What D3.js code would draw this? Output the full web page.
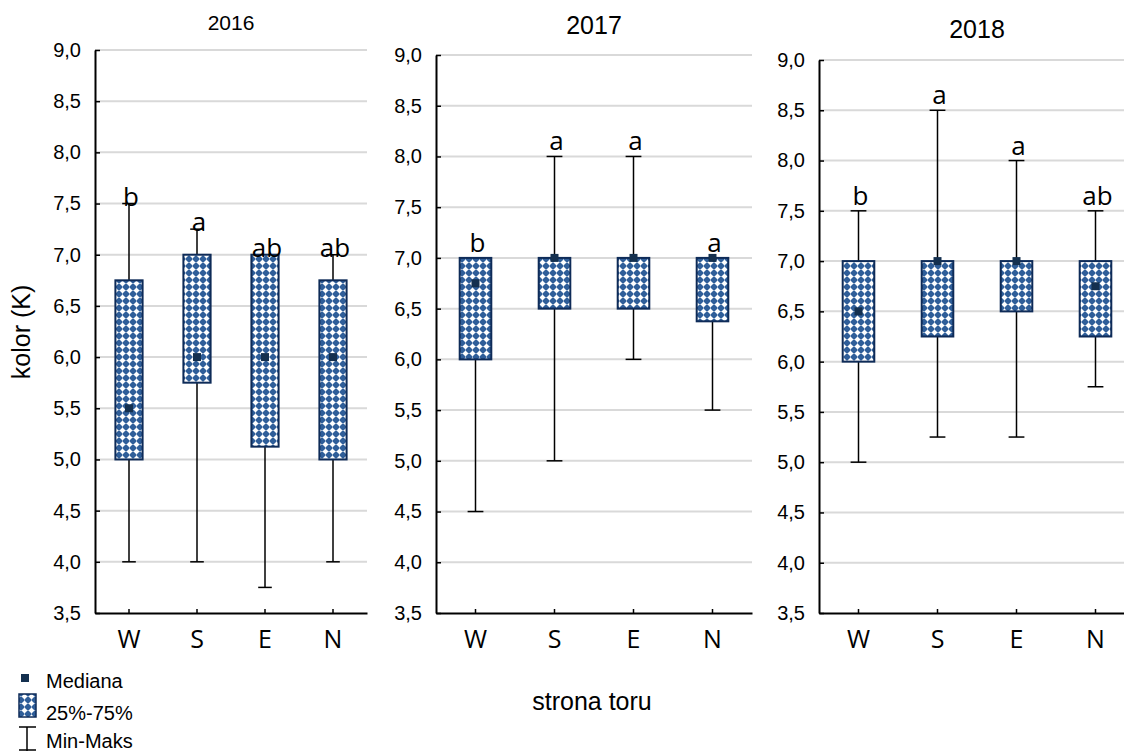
<!DOCTYPE html>
<html>
<head>
<meta charset="utf-8">
<script src="https://cdn.jsdelivr.net/npm/d3@7"></script>
<style>
  body { margin: 0; background: #fff; }
  text { font-family: Arial, "Liberation Sans", sans-serif; fill: #000; }
  .let, .xlab text { font-family: "Open Sans", sans-serif; }
</style>
</head>
<body>
<div id="chart"></div>
<script>
// boxplot of colour score (K) by side of track, three years

var years = ["2016", "2017", "2018"];
var sides = ["W", "S", "E", "N"];

// one row per year, one value per side
var minVals = [
    [4.0, 4.0, 3.75, 4.0],
    [4.5, 5.0, 6.0, 5.5],
    [5.0, 5.25, 5.25, 5.75]
];
var q1Vals = [
    [5.0, 5.75, 5.125, 5.0],
    [6.0, 6.5, 6.5, 6.375],
    [6.0, 6.25, 6.5, 6.25]
];
var medVals = [
    [5.5, 6.0, 6.0, 6.0],
    [6.75, 7.0, 7.0, 7.0],
    [6.5, 7.0, 7.0, 6.75]
];
var q3Vals = [
    [6.75, 7.0, 7.0, 6.75],
    [7.0, 7.0, 7.0, 7.0],
    [7.0, 7.0, 7.0, 7.0]
];
var maxVals = [
    [7.5, 7.25, 7.0, 7.0],
    [7.0, 8.0, 8.0, 7.0],
    [7.5, 8.5, 8.0, 7.5]
];
var letters = [
    ["b", "a", "ab", "ab"],
    ["b", "a", "a", "a"],
    ["b", "a", "a", "ab"]
];
var yTicks = [3.5, 4.0, 4.5, 5.0, 5.5, 6.0, 6.5, 7.0, 7.5, 8.0, 8.5, 9.0];

var svgWidth = 1124;
var svgHeight = 751;

// where each year's panel sits
var panels = [
    { x0: 95,  x1: 367,  top: 50, titleY: 30, titleSize: 21, letDy: 2 },
    { x0: 436, x1: 752,  top: 55, titleY: 34, titleSize: 25, letDy: -6 },
    { x0: 819, x1: 1135, top: 60, titleY: 38, titleSize: 25, letDy: -6 }
];
var bottom = 613;

var boxBlue = "#2f5e99";
var boxEdge = "#0e2b58";
var medColor = "#14304f";

var pl = d3.formatLocale({ decimal: ",", thousands: " ", grouping: [3], currency: ["", ""] });
var fmt = pl.format(".1f");

var svg = d3.select("#chart")
    .append("svg")
    .attr("width", svgWidth)
    .attr("height", svgHeight);

// checker pattern for the boxes
var pat = svg.append("defs").append("pattern")
    .attr("id", "chk")
    .attr("patternUnits", "userSpaceOnUse")
    .attr("width", 7)
    .attr("height", 7);
pat.append("rect").attr("width", 7).attr("height", 7).attr("fill", boxBlue);
pat.append("path")
    .attr("d", "M3.5,0.5L6.5,3.5L3.5,6.5L0.5,3.5Z")
    .attr("fill", "#fff");
pat.append("rect").attr("x", 0).attr("y", 3.1).attr("width", 7).attr("height", 0.8).attr("fill", "#fff").attr("opacity", 0.5);
pat.append("rect").attr("x", 3.1).attr("y", 0).attr("width", 0.8).attr("height", 7).attr("fill", "#fff").attr("opacity", 0.5);

years.forEach(function(year, i) {
    var p = panels[i];
    var g = svg.append("g");

    var xScale = d3.scaleBand()
        .domain(sides)
        .range([p.x0, p.x1])
        .padding(0);
    var yScale = d3.scaleLinear()
        .domain([3.5, 9.0])
        .range([bottom, p.top]);

    // grid
    g.append("g").selectAll("line")
        .data(yTicks.slice(1))
        .enter()
        .append("line")
        .attr("x1", p.x0)
        .attr("x2", p.x1)
        .attr("y1", d => yScale(d))
        .attr("y2", d => yScale(d))
        .attr("stroke", "#d9d9d9")
        .attr("stroke-width", 2);

    // y axis, ticks point inward
    var yAxis = d3.axisLeft(yScale)
        .tickValues(yTicks)
        .tickFormat(fmt)
        .tickSize(-5)
        .tickSizeOuter(0)
        .tickPadding(14);
    var ya = g.append("g")
        .attr("transform", `translate(${p.x0},0)`)
        .call(yAxis);
    ya.select(".domain").attr("stroke", "#000").attr("stroke-width", 2);
    ya.selectAll(".tick line").attr("stroke", "#000").attr("stroke-width", 1.5);
    ya.selectAll(".tick text")
        .attr("font-size", 20)
        .attr("font-family", "Arial, 'Liberation Sans', sans-serif");

    // x axis, small ticks pointing up
    var xAxis = d3.axisBottom(xScale)
        .tickSize(-4)
        .tickSizeOuter(0)
        .tickPadding(14);
    var xa = g.append("g")
        .attr("class", "xlab")
        .attr("transform", `translate(0,${bottom})`)
        .call(xAxis);
    xa.select(".domain").attr("stroke", "#000").attr("stroke-width", 2);
    xa.selectAll(".tick line").attr("stroke", "#000").attr("stroke-width", 1.5);
    xa.selectAll(".tick text")
        .attr("font-size", 25)
        .attr("font-family", "'Open Sans', sans-serif")
        .attr("dy", "0.85em");

    var bw = xScale.bandwidth() * 0.4;
    var capW = xScale.bandwidth() * 0.2;
    var cx = s => xScale(s) + xScale.bandwidth() / 2;

    // whiskers
    g.append("g").selectAll("line")
        .data(sides)
        .enter()
        .append("line")
        .attr("x1", d => cx(d))
        .attr("x2", d => cx(d))
        .attr("y1", (d, j) => yScale(minVals[i][j]))
        .attr("y2", (d, j) => yScale(maxVals[i][j]))
        .attr("stroke", "#000")
        .attr("stroke-width", 1.5);
    [minVals, maxVals].forEach(function(vals) {
        g.append("g").selectAll("line")
            .data(sides)
            .enter()
            .append("line")
            .attr("x1", d => cx(d) - capW / 2)
            .attr("x2", d => cx(d) + capW / 2)
            .attr("y1", (d, j) => yScale(vals[i][j]))
            .attr("y2", (d, j) => yScale(vals[i][j]))
            .attr("stroke", "#000")
            .attr("stroke-width", 1.5);
    });

    // boxes
    g.append("g").selectAll("rect")
        .data(sides)
        .enter()
        .append("rect")
        .attr("x", d => cx(d) - bw / 2)
        .attr("width", bw)
        .attr("y", (d, j) => yScale(q3Vals[i][j]))
        .attr("height", (d, j) => yScale(q1Vals[i][j]) - yScale(q3Vals[i][j]))
        .attr("fill", "url(#chk)")
        .attr("stroke", boxEdge)
        .attr("stroke-width", 2);

    // medians
    g.append("g").selectAll("rect")
        .data(sides)
        .enter()
        .append("rect")
        .attr("x", d => cx(d) - 4)
        .attr("y", (d, j) => yScale(medVals[i][j]) - 4)
        .attr("width", 8)
        .attr("height", 8)
        .attr("fill", medColor);

    // group letters
    g.append("g").selectAll("text")
        .data(sides)
        .enter()
        .append("text")
        .attr("class", "let")
        .attr("x", d => cx(d) + 2)
        .attr("y", (d, j) => yScale(maxVals[i][j]) + p.letDy)
        .attr("text-anchor", "middle")
        .attr("font-size", 26)
        .text((d, j) => letters[i][j]);

    // title
    g.append("text")
        .attr("x", (p.x0 + p.x1) / 2)
        .attr("y", p.titleY)
        .attr("text-anchor", "middle")
        .attr("font-size", p.titleSize)
        .text(year);
});

// axis titles
svg.append("text")
    .attr("transform", "rotate(-90)")
    .attr("x", -332)
    .attr("y", 30)
    .attr("text-anchor", "middle")
    .attr("font-size", 25)
    .text("kolor (K)");

svg.append("text")
    .attr("x", 592)
    .attr("y", 710)
    .attr("text-anchor", "middle")
    .attr("font-size", 25)
    .text("strona toru");

// legend
var lg = svg.append("g");
lg.append("rect")
    .attr("x", 21).attr("y", 674)
    .attr("width", 8).attr("height", 8)
    .attr("fill", medColor);
lg.append("text").attr("x", 46).attr("y", 688).attr("font-size", 20).text("Mediana");

lg.append("rect")
    .attr("x", 19).attr("y", 694)
    .attr("width", 17).attr("height", 23)
    .attr("fill", "url(#chk)")
    .attr("stroke", boxEdge)
    .attr("stroke-width", 1.5);
lg.append("text").attr("x", 46).attr("y", 720).attr("font-size", 20).text("25%-75%");

lg.append("line").attr("x1", 27).attr("x2", 27).attr("y1", 727).attr("y2", 751)
    .attr("stroke", "#000").attr("stroke-width", 1.5);
lg.append("line").attr("x1", 19).attr("x2", 36).attr("y1", 727).attr("y2", 727)
    .attr("stroke", "#000").attr("stroke-width", 1.5);
lg.append("line").attr("x1", 19).attr("x2", 36).attr("y1", 750).attr("y2", 750)
    .attr("stroke", "#000").attr("stroke-width", 1.5);
lg.append("text").attr("x", 46).attr("y", 748).attr("font-size", 20).text("Min-Maks");
</script>
</body>
</html>
